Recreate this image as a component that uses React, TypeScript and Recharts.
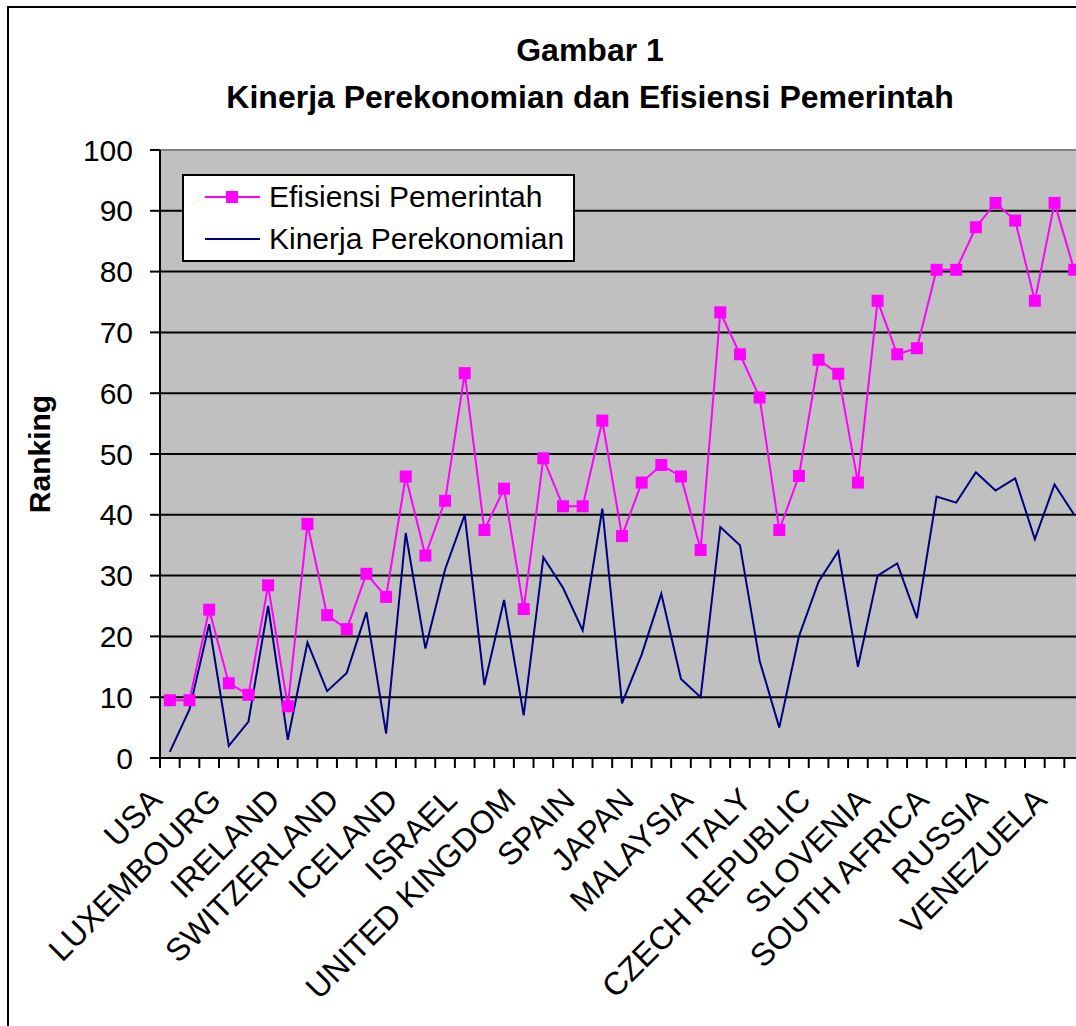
import React from 'react';
import { LineChart, Line, XAxis, YAxis, CartesianGrid, Legend, ReferenceLine } from 'recharts';

const countries = [
  'USA', 'SINGAPORE', 'FINLAND', 'LUXEMBOURG', 'NETHERLANDS', 'HONG KONG', 'IRELAND', 'SWEDEN', 'CANADA',
  'SWITZERLAND', 'AUSTRALIA', 'GERMANY', 'ICELAND', 'AUSTRIA', 'DENMARK', 'ISRAEL', 'BELGIUM', 'TAIWAN',
  'UNITED KINGDOM', 'NORWAY', 'NEW ZEALAND', 'SPAIN', 'ESTONIA', 'CHILE', 'JAPAN', 'FRANCE', 'HUNGARY',
  'MALAYSIA', 'KOREA', 'PORTUGAL', 'ITALY', 'THAILAND', 'CHINA', 'CZECH REPUBLIC', 'BRAZIL', 'GREECE',
  'SLOVENIA', 'INDIA', 'MEXICO', 'SOUTH AFRICA', 'PHILIPPINES', 'SLOVAK REPUBLIC', 'RUSSIA', 'TURKEY',
  'COLOMBIA', 'VENEZUELA', 'ARGENTINA',
];

const efisiensiPemerintah = [
  9.5, 9.5, 24.4, 12.3, 10.4, 28.4, 8.5, 38.5, 23.5, 21.2,
  30.3, 26.5, 46.3, 33.3, 42.3, 63.3, 37.5, 44.3, 24.5, 49.3,
  41.4, 41.4, 55.5, 36.5, 45.3, 48.2, 46.3, 34.2, 73.3, 66.4,
  59.3, 37.5, 46.4, 65.5, 63.2, 45.3, 75.2, 66.4, 67.4, 80.3,
  80.3, 87.3, 91.3, 88.4, 75.2, 91.3, 80.3,
];

const kinerjaPerekonomian = [
  1, 8, 22, 2, 6, 25, 3, 19, 11, 14,
  24, 4, 37, 18, 31, 40, 12, 26, 7, 33,
  28, 21, 41, 9, 17, 27, 13, 10, 38, 35,
  16, 5, 20, 29, 34, 15, 30, 32, 23, 43,
  42, 47, 44, 46, 36, 45, 40,
];

const yTicks = [0, 10, 20, 30, 40, 50, 60, 70, 80, 90, 100];

const seriesNames = ['Efisiensi Pemerintah', 'Kinerja Perekonomian'];

const data = countries.map((c, i) => ({
  country: c,
  efisiensi: efisiensiPemerintah[i],
  kinerja: kinerjaPerekonomian[i],
}));

const FONT = '"Liberation Sans", Arial, sans-serif';
const CW = 1162;
const CH = 1040;
const YAXIS_W = 151;
const M_RIGHT = 87;
const M_TOP = 142;
const PLOT_H = 608;
const BAND = (CW - YAXIS_W - M_RIGHT) / countries.length;
const PINK = '#FF00FF';
const NAVY = '#000080';

const XTick = (props: any) => {
  const { x, y, payload, index } = props;
  const i = payload && typeof payload.index === 'number' ? payload.index : index;
  const lx = x - 6;
  const ly = y + 44;
  return (
    <g>
      <line x1={x - BAND / 2} y1={y} x2={x - BAND / 2} y2={y + 10} stroke="#000" strokeWidth={2} />
      {i % 3 === 0 ? (
        <text
          x={lx}
          y={ly}
          textAnchor="end"
          transform={`rotate(-45, ${lx}, ${ly})`}
          fontSize={32}
          fontFamily={FONT}
          fill="#000"
        >
          {payload.value}
        </text>
      ) : null}
    </g>
  );
};

const SquareDot = (props: any) => {
  const { cx, cy, index } = props;
  if (cx == null || cy == null) return <g key={`d${index}`} />;
  return <rect key={`d${index}`} x={cx - 6} y={cy - 6} width={12} height={12} fill={PINK} />;
};

const LegendBox = () => (
  <div
    style={{
      boxSizing: 'border-box',
      width: 393,
      height: 88,
      border: '2px solid #000',
      background: '#fff',
      position: 'relative',
      fontFamily: FONT,
      fontSize: 30,
      color: '#000',
    }}
  >
    {seriesNames.map((name, k) => (
      <div
        key={name}
        style={{ position: 'absolute', left: 0, top: k === 0 ? 3 : 45, height: 36, width: 389 }}
      >
        <svg width={60} height={36} style={{ position: 'absolute', left: 19, top: 0 }}>
          <line x1={2} y1={18} x2={57} y2={18} stroke={k === 0 ? PINK : NAVY} strokeWidth={2} />
          {k === 0 ? <rect x={23} y={12} width={12} height={12} fill={PINK} /> : null}
        </svg>
        <span style={{ position: 'absolute', left: 85, top: 0, lineHeight: '36px', whiteSpace: 'nowrap' }}>
          {name}
        </span>
      </div>
    ))}
  </div>
);

export default function App() {
  return (
    <div
      style={{
        position: 'absolute',
        left: 0,
        top: 0,
        width: 1076,
        height: 1026,
        overflow: 'hidden',
        background: '#fff',
      }}
    >
      <div
        style={{
          position: 'absolute',
          left: 7,
          top: 6,
          width: CW,
          height: CH,
          border: '2px solid #000',
          background: '#fff',
        }}
      >
        <LineChart
          width={CW}
          height={CH}
          data={data}
          margin={{ top: M_TOP, right: M_RIGHT, left: 0, bottom: 0 }}
        >
          <CartesianGrid vertical={false} stroke="#000" strokeWidth={2} fill="#C0C0C0" fillOpacity={1} />
          <ReferenceLine y={100} stroke="#808080" strokeWidth={2} />
          <XAxis
            dataKey="country"
            interval={0}
            padding={{ left: BAND / 2, right: BAND / 2 }}
            tickLine={false}
            tickSize={0}
            tickMargin={0}
            axisLine={{ stroke: '#000', strokeWidth: 2 }}
            height={CH - M_TOP - PLOT_H}
            tick={(p: any) => <XTick {...p} />}
          />
          <YAxis
            width={YAXIS_W}
            domain={[0, 100]}
            ticks={yTicks}
            interval={0}
            tickSize={10}
            tickMargin={17}
            axisLine={{ stroke: '#000', strokeWidth: 2 }}
            tickLine={{ stroke: '#000', strokeWidth: 2 }}
            tick={{ fontSize: 30, fill: '#000', fontFamily: FONT }}
            label={{
              value: 'Ranking',
              angle: -90,
              position: 'center',
              dx: -45,
              style: { fontSize: 30, fontWeight: 'bold', fill: '#000', fontFamily: FONT },
            }}
          />
          <Legend
            layout="horizontal"
            verticalAlign="middle"
            align="center"
            wrapperStyle={{ left: 173, top: 166, width: 393, height: 88 }}
            content={() => <LegendBox />}
          />
          <Line
            type="linear"
            dataKey="kinerja"
            name={seriesNames[1]}
            stroke={NAVY}
            strokeWidth={2}
            dot={false}
            activeDot={false}
            isAnimationActive={false}
          />
          <Line
            type="linear"
            dataKey="efisiensi"
            name={seriesNames[0]}
            stroke={PINK}
            strokeWidth={2}
            dot={(p: any) => <SquareDot {...p} />}
            activeDot={false}
            isAnimationActive={false}
          />
        </LineChart>
      </div>
      <div
        style={{
          position: 'absolute',
          left: 190,
          top: 27,
          width: 800,
          textAlign: 'center',
          fontFamily: FONT,
          fontWeight: 'bold',
          fontSize: 32,
          lineHeight: '47px',
          color: '#000',
        }}
      >
        <div>Gambar 1</div>
        <div>Kinerja Perekonomian dan Efisiensi Pemerintah</div>
      </div>
    </div>
  );
}
